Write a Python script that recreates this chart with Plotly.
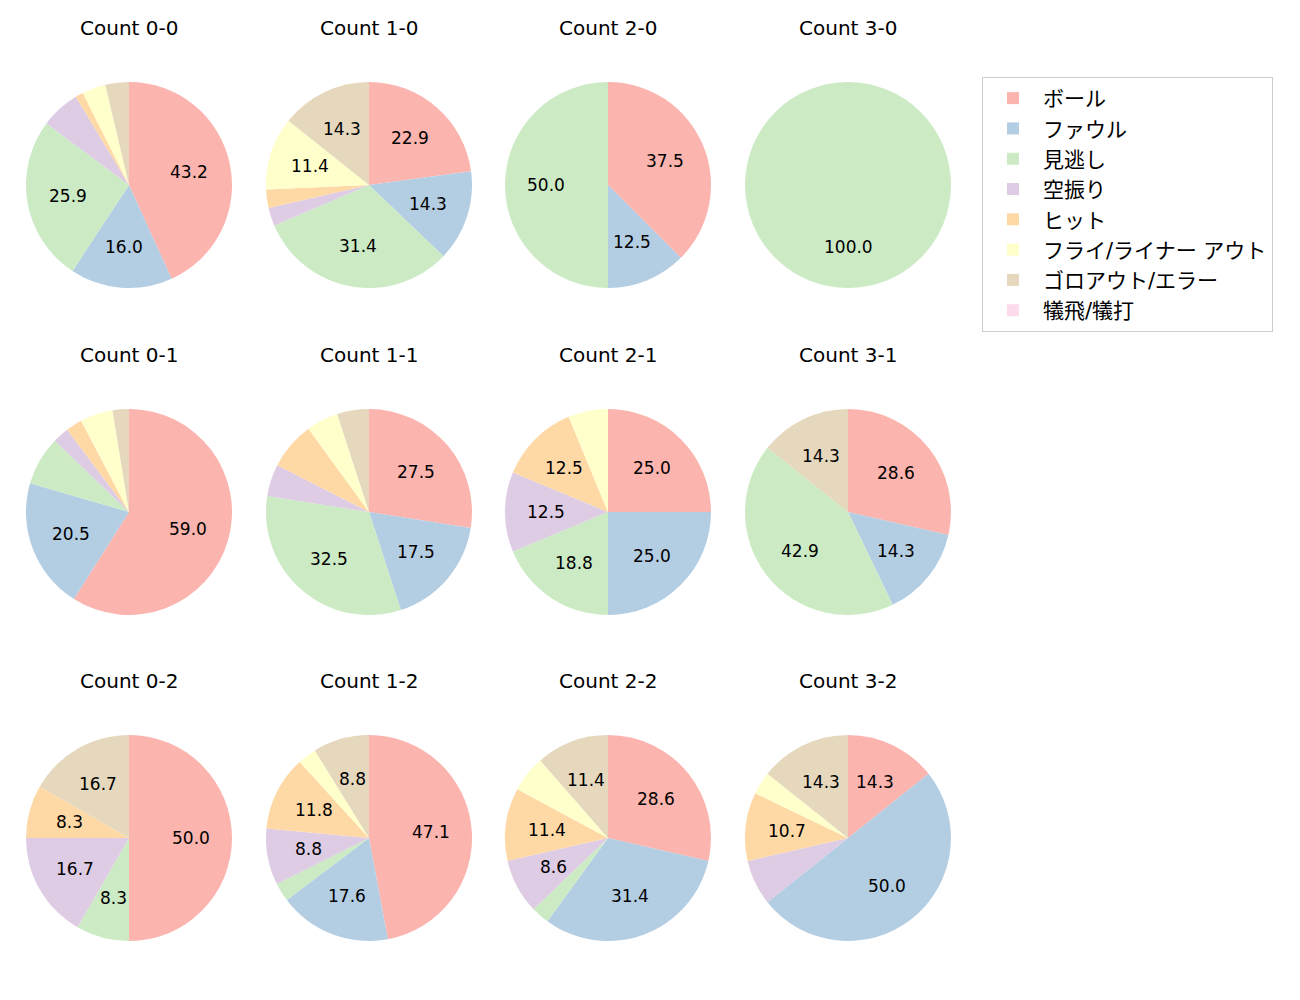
import math

import plotly.graph_objects as go

# ─── Données ──────────────────────────────────────────────────────────────
labels = ["ボール", "ファウル", "見逃し", "空振り", "ヒット",
          "フライ/ライナー アウト", "ゴロアウト/エラー", "犠飛/犠打"]
colors = ["#fbb4ae", "#b3cde3", "#ccebc5", "#decbe4",
          "#fed9a6", "#ffffcc", "#e5d8bd", "#fddaec"]

counts = ["0-0", "1-0", "2-0", "3-0",
          "0-1", "1-1", "2-1", "3-1",
          "0-2", "1-2", "2-2", "3-2"]

# nombre de lancers par résultat, dans l'ordre de `labels`
values = {
    "0-0": [35, 13, 21, 5, 1, 3, 3, 0],
    "1-0": [8, 5, 11, 1, 1, 4, 5, 0],
    "2-0": [3, 1, 4, 0, 0, 0, 0, 0],
    "3-0": [0, 0, 1, 0, 0, 0, 0, 0],
    "0-1": [23, 8, 3, 1, 1, 2, 1, 0],
    "1-1": [11, 7, 13, 2, 3, 2, 2, 0],
    "2-1": [4, 4, 3, 2, 2, 1, 0, 0],
    "3-1": [2, 1, 3, 0, 0, 0, 1, 0],
    "0-2": [6, 0, 1, 2, 1, 0, 2, 0],
    "1-2": [16, 6, 1, 3, 4, 1, 3, 0],
    "2-2": [10, 11, 1, 3, 4, 2, 4, 0],
    "3-2": [4, 14, 0, 2, 3, 1, 4, 0],
}

MIN_PCT = 8.0      # en dessous, pas d'étiquette
PCT_DIST = 0.6     # distance relative du libellé au centre

W, H = 1300, 1000
OFF = 8            # marge du <body> de la page
col_cx = [129, 369, 608, 848]
row_cy = [185, 512, 838]
R = 103


def px(x):
    return (x - OFF) / W


def py(y):
    return 1 - (y - OFF) / H


fig = go.Figure()

for i, c in enumerate(counts):
    row, col = divmod(i, 4)
    vals = values[c]
    total = sum(vals)
    cx, cy = col_cx[col], row_cy[row]
    fig.add_trace(go.Pie(
        labels=labels,
        values=vals,
        textinfo="none",
        marker=dict(colors=colors, line=dict(width=0)),
        sort=False,
        direction="clockwise",
        rotation=0,
        hoverinfo="label+percent",
        showlegend=(i == 0),
        domain=dict(x=[px(cx - R), px(cx + R)],
                    y=[py(cy + R), py(cy - R)]),
    ))
    # libellés des pourcentages, placés comme autopct de matplotlib
    cum = 0
    for v in vals:
        pct = 100 * v / total
        if pct >= MIN_PCT:
            ang = math.radians(90 - 360 * (cum + v / 2) / total)
            fig.add_annotation(
                text=f"{pct:.1f}",
                x=px(cx + PCT_DIST * R * math.cos(ang)),
                y=py(cy - PCT_DIST * R * math.sin(ang)),
                xref="paper", yref="paper", showarrow=False,
                font=dict(size=17, color="black"),
                xanchor="center", yanchor="middle",
            )
        cum += v
    fig.add_annotation(
        text=f"Count {c}", x=px(cx), y=py(cy - 157),
        xref="paper", yref="paper", showarrow=False,
        font=dict(size=20, color="black"), xanchor="center", yanchor="middle",
    )

fig.update_layout(
    width=W, height=H,
    margin=dict(l=0, r=0, t=0, b=0),
    paper_bgcolor="white",
    font=dict(family="DejaVu Sans, Noto Sans CJK JP, sans-serif", color="black"),
    legend=dict(
        x=px(982), y=py(77), xanchor="left", yanchor="top",
        bordercolor="#cccccc", borderwidth=1,
        font=dict(size=21), traceorder="normal",
        itemwidth=50,
    ),
)

fig.write_html("out.html")
